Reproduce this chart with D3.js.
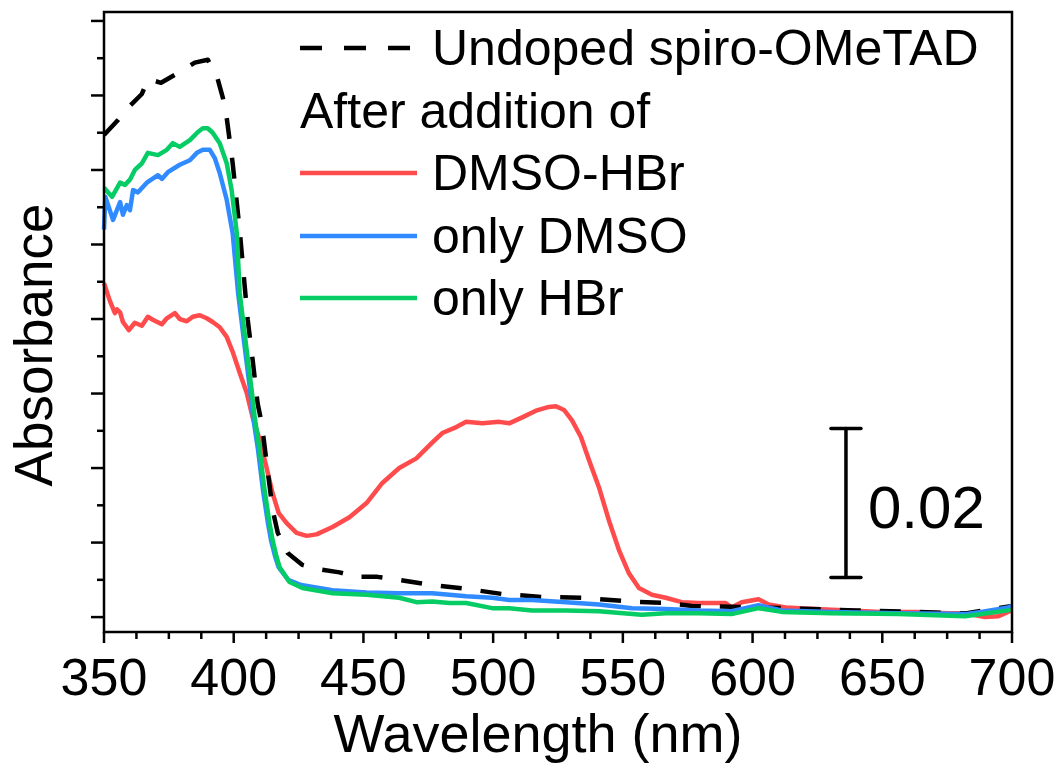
<!DOCTYPE html>
<html>
<head>
<meta charset="utf-8">
<script src="https://cdn.jsdelivr.net/npm/d3@7"></script>
<style>
  html, body { margin: 0; padding: 0; background: #fff; }
  svg { display: block; font-family: "Liberation Sans", Arial, sans-serif; }
</style>
</head>
<body>
<svg id="chart" width="1063" height="777"></svg>
<script>
// absorbance in units of 1e-3 (arbitrary offset, no y labels in the figure)
const undoped = [
  [350, 64.7], [355.4, 66.7], [360, 68.6], [364.6, 70.2], [367, 72.2], [372, 71.7],
  [378.5, 73.0], [385, 74.4], [390, 74.8], [393.5, 72.6], [395.8, 69.7], [397.3, 67.0],
  [398.5, 63.8], [399.6, 60.9], [402.3, 51.9], [405.4, 39.9], [407.3, 34.5], [409.2, 28.7],
  [410.8, 26.0], [412.7, 20.7], [415, 14.4], [417, 11.3], [420.8, 8.6], [426.5, 7.0],
  [433, 6.4], [440.8, 6.0], [447.3, 5.4], [455.4, 5.4], [463.8, 5.0], [476.5, 4.3],
  [489.6, 3.8], [503.5, 3.1], [518.8, 2.7], [534.2, 2.6], [552.3, 2.1], [566.9, 1.9],
  [576.5, 1.5], [602, 1.3], [640, 0.9], [682, 0.5], [700, 1.5]
];

const dmsoHBr = [
  [350, 44.8], [352.3, 42.4], [354.2, 40.8], [355, 41.3], [356.2, 40.9], [357.3, 39.6],
  [359.6, 38.5], [361.9, 39.5], [364.6, 39.1], [366.9, 40.3], [368.8, 39.9], [372.3, 39.3],
  [374.2, 40.1], [377.3, 40.8], [379.2, 40.0], [381.9, 39.7], [384.2, 40.3], [386.9, 40.5],
  [389.6, 40.1], [391.9, 39.6], [394.6, 38.9], [397.3, 37.6], [399.6, 35.6], [402.3, 32.8],
  [405, 30.1], [407.3, 26.8], [410, 23.8], [412.7, 20.0], [415, 16.6], [417.3, 14.0],
  [420.4, 12.6], [424.2, 11.3], [428.1, 10.9], [431.9, 11.1], [438.1, 12.1], [444.6, 13.4],
  [451.2, 15.3], [457.3, 18.0], [463.8, 20.0], [470.4, 21.3], [476.5, 23.4], [480.4, 24.7],
  [485.8, 25.5], [489.6, 26.2], [495.8, 26.0], [502.3, 26.2], [506.2, 26.0], [511.2, 26.8],
  [516.5, 27.7], [521.5, 28.2], [524.2, 28.3], [527.3, 27.8], [530.4, 26.4], [533.8, 24.2],
  [536.9, 21.1], [540.8, 17.4], [544.6, 13.0], [548.5, 9.0], [552.3, 5.9], [556.2, 3.9],
  [561.2, 3.0], [566.5, 2.6], [572.7, 2.0], [579.2, 1.9], [589.6, 1.9], [591.9, 1.3],
  [595.8, 2.0], [602.3, 2.4], [606.2, 1.7], [612.7, 1.3], [624.2, 1.1], [636.9, 0.9],
  [649.6, 0.7], [662.7, 0.7], [675.4, 0.5], [681.9, 0.5], [689.6, 0.0], [694.6, 0.1],
  [698.5, 0.7], [700, 0.9]
];

const onlyDMSO = [
  [350, 52.0], [350.5, 56.4], [353.5, 53.3], [356.2, 55.7], [357.3, 54.0], [358.8, 55.3],
  [360, 54.6], [361.2, 57.3], [363.1, 57.0], [366.5, 58.3], [370.8, 59.3], [372.3, 58.8],
  [374.6, 59.7], [379.2, 60.7], [383.1, 61.3], [385.8, 62.3], [388.1, 62.7], [390.8, 62.7],
  [392.7, 61.6], [394.6, 59.6], [397.3, 56.0], [399.6, 51.5], [401.7, 43.5], [404.4, 35.8],
  [406.3, 30.5], [407.5, 26.8], [409.4, 22.4], [411.3, 17.0], [413.2, 12.6], [414.4, 10.3],
  [416, 8.1], [417.3, 6.7], [421, 5.0], [426, 4.3], [438, 3.6], [451.2, 3.3], [463.8, 3.2],
  [470.4, 3.2], [476.5, 3.2], [483.1, 3.0], [489.6, 2.8], [499.6, 2.6], [506.2, 2.3],
  [515, 2.3], [528.1, 2.0], [540.8, 1.7], [553.5, 1.2], [566.5, 1.1], [579.2, 0.9],
  [591.9, 0.8], [602.3, 1.6], [611.2, 0.9], [630.4, 0.7], [656.2, 0.5], [681.9, 0.4],
  [688.1, 0.7], [698.5, 1.3], [700, 1.5]
];

const onlyHBr = [
  [350, 57.6], [353.1, 56.4], [356.2, 58.3], [358.1, 58.0], [360, 58.7], [361.9, 60.0],
  [364.6, 60.9], [366.9, 62.3], [370.8, 62.0], [374.2, 62.7], [376.5, 63.6], [379.2, 63.1],
  [383.1, 64.0], [386.2, 65.1], [388.1, 65.6], [390, 65.6], [391.9, 65.0], [394.6, 63.6],
  [397.3, 60.9], [399.2, 57.3], [401.2, 51.5], [402.3, 43.5], [405, 35.8], [406.9, 30.5],
  [408.1, 26.8], [410, 22.4], [411.9, 17.0], [413.8, 12.6], [415, 10.3], [416.5, 8.1],
  [417.7, 6.7], [421.5, 4.7], [426.5, 3.9], [438.1, 3.2], [451.2, 3.0], [463.8, 2.6],
  [470.4, 2.0], [476.5, 2.1], [483.1, 1.9], [489.6, 1.9], [499.6, 1.2], [506.2, 1.2],
  [515, 0.9], [528.1, 0.9], [540.8, 0.8], [557.3, 0.3], [566.5, 0.5], [579.2, 0.5],
  [591.9, 0.4], [602.3, 1.2], [611.2, 0.7], [630.4, 0.5], [656.2, 0.4], [681.9, 0.1],
  [698.5, 0.9], [700, 1.0]
];

const xTickLabels = [350, 400, 450, 500, 550, 600, 650, 700];
const scaleBarRange = [5.3, 25.3];   // 0.02 absorbance
const scaleBarNm = 636;

const series = [
  { name: "Undoped spiro-OMeTAD", data: undoped, color: "#000000", dash: "21,19" },
  { name: "DMSO-HBr", data: dmsoHBr, color: "#ff4b4b", dash: null },
  { name: "only DMSO", data: onlyDMSO, color: "#2f8bff", dash: null },
  { name: "only HBr", data: onlyHBr, color: "#05cc64", dash: null }
];

const svg = d3.select("#chart");
const plotLeft = 104, plotRight = 1012, plotTop = 12, plotBottom = 632;

const x = d3.scaleLinear().domain([350, 700]).range([plotLeft, plotRight]);
const y = d3.scaleLinear().domain([-2.0, 81.2]).range([plotBottom, plotTop]);

// curves, drawn in back-to-front order like the original
const line = d3.line().x(d => x(d[0])).y(d => y(d[1]));
const plot = svg.append("g");
[series[1], series[0], series[2], series[3]].forEach(s => {
  plot.append("path")
    .datum(s.data)
    .attr("fill", "none")
    .attr("stroke", s.color)
    .attr("stroke-width", 4.5)
    .attr("stroke-linejoin", "round")
    .attr("stroke-dasharray", s.dash)
    .attr("d", line);
});

// frame
svg.append("rect")
  .attr("x", plotLeft).attr("y", plotTop)
  .attr("width", plotRight - plotLeft).attr("height", plotBottom - plotTop)
  .attr("fill", "none").attr("stroke", "#000").attr("stroke-width", 2.5);

// x axis ticks
const xMinor = d3.range(350, 700.01, 12.5);
const xAxis = svg.append("g");
xAxis.selectAll("line").data(xMinor).join("line")
  .attr("x1", d => x(d)).attr("x2", d => x(d))
  .attr("y1", plotBottom).attr("y2", d => plotBottom + (d % 50 === 0 ? 11 : 7))
  .attr("stroke", "#000").attr("stroke-width", 2.5);
xAxis.selectAll("text").data(xTickLabels).join("text")
  .attr("x", d => x(d)).attr("y", 695)
  .attr("text-anchor", "middle")
  .attr("font-size", 52)
  .text(d => d);

// y axis ticks (no labels)
const yTicks = d3.range(0, 80.01, 5);
svg.append("g").selectAll("line").data(yTicks).join("line")
  .attr("x1", plotLeft).attr("x2", d => plotLeft - (d % 10 === 0 ? 13 : 7))
  .attr("y1", d => y(d)).attr("y2", d => y(d))
  .attr("stroke", "#000").attr("stroke-width", 2.5);

// axis titles
svg.append("text")
  .attr("x", 538).attr("y", 752)
  .attr("text-anchor", "middle").attr("font-size", 54)
  .text("Wavelength (nm)");
svg.append("text")
  .attr("transform", "translate(52, 345) rotate(-90)")
  .attr("text-anchor", "middle").attr("font-size", 53)
  .text("Absorbance");

// scale bar
const sb = svg.append("g").attr("stroke", "#000").attr("stroke-width", 3.5).attr("stroke-linecap", "round");
sb.append("line")
  .attr("x1", x(scaleBarNm)).attr("x2", x(scaleBarNm))
  .attr("y1", y(scaleBarRange[0])).attr("y2", y(scaleBarRange[1]));
scaleBarRange.forEach(v => {
  sb.append("line")
    .attr("x1", x(scaleBarNm) - 15).attr("x2", x(scaleBarNm) + 15)
    .attr("y1", y(v)).attr("y2", y(v));
});
svg.append("text")
  .attr("x", 868).attr("y", 528)
  .attr("font-size", 60)
  .text("0.02");

// legend
const legend = svg.append("g").attr("font-size", 50);
const rows = [
  { s: series[0], yLine: 48, yText: 65 },
  { s: null, yText: 128, label: "After addition of" },
  { s: series[1], yLine: 173, yText: 190 },
  { s: series[2], yLine: 236, yText: 253 },
  { s: series[3], yLine: 298, yText: 315 }
];
rows.forEach(r => {
  if (r.s) {
    legend.append("line")
      .attr("x1", 300).attr("x2", r.s.dash ? 410 : 417)
      .attr("y1", r.yLine).attr("y2", r.yLine)
      .attr("stroke", r.s.color).attr("stroke-width", 4.5)
      .attr("stroke-dasharray", r.s.dash ? "22,22" : null);
    legend.append("text").attr("x", 432).attr("y", r.yText).text(r.s.name);
  } else {
    legend.append("text").attr("x", 300).attr("y", r.yText).text(r.label);
  }
});
</script>
</body>
</html>
